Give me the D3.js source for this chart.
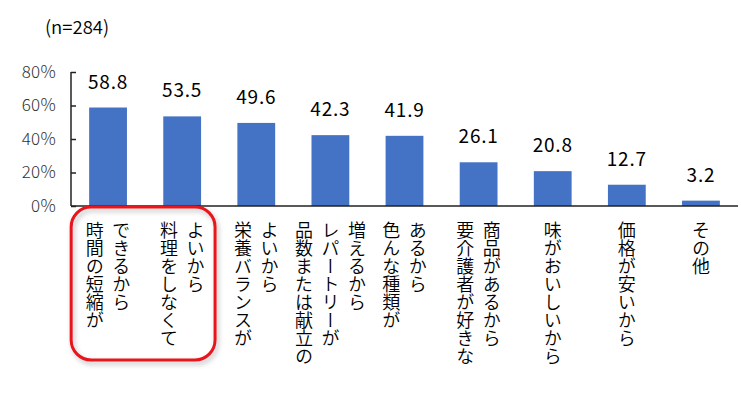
<!DOCTYPE html>
<html>
<head>
<meta charset="utf-8">
<script src="https://cdn.jsdelivr.net/npm/d3@7"></script>
<style>
  body { margin: 0; background: #fff; }
  svg { font-family: "Noto Sans CJK JP", "Noto Sans", sans-serif; }
</style>
</head>
<body>
<script>
// categories (each label split into its vertical text columns, left to right)
var categories = [
  ["時間の短縮が", "できるから"],
  ["料理をしなくて", "よいから"],
  ["栄養バランスが", "よいから"],
  ["品数または献立の", "レパートリーが", "増えるから"],
  ["色んな種類が", "あるから"],
  ["要介護者が好きな", "商品があるから"],
  ["味がおいしいから"],
  ["価格が安いから"],
  ["その他"]
];
var values = [58.8, 53.5, 49.6, 42.3, 41.9, 26.1, 20.8, 12.7, 3.2];
var yTicks = [0, 20, 40, 60, 80];
var note = "(n=284)";

var W = 741, H = 394;
var plot = {left: 71, right: 738, top: 72, bottom: 206};

var svg = d3.select("body").append("svg")
    .attr("width", W)
    .attr("height", H);

var x = d3.scaleBand()
    .domain(d3.range(values.length))
    .range([plot.left, plot.right])
    .paddingInner(0.49)
    .paddingOuter(0.245);

var y = d3.scaleLinear()
    .domain([0, 80])
    .range([plot.bottom, plot.top]);

// shadow for the highlight box
var defs = svg.append("defs");
defs.append("filter")
    .attr("id", "shadow")
    .attr("x", "-20%").attr("y", "-20%")
    .attr("width", "140%").attr("height", "140%")
    .append("feDropShadow")
    .attr("dx", 2).attr("dy", 3)
    .attr("stdDeviation", 2.5)
    .attr("flood-color", "#000")
    .attr("flood-opacity", 0.25);

// bars
svg.selectAll("rect.bar")
    .data(values)
    .enter()
    .append("rect")
    .attr("class", "bar")
    .attr("x", function(d, i) { return x(i); })
    .attr("y", function(d) { return y(d); })
    .attr("width", x.bandwidth())
    .attr("height", function(d) { return y(0) - y(d); })
    .style("fill", "#4472C4");

// value labels
svg.selectAll("text.val")
    .data(values)
    .enter()
    .append("text")
    .attr("class", "val")
    .attr("x", function(d, i) { return x(i) + x.bandwidth() / 2; })
    .attr("y", function(d) { return y(d) - 19; })
    .attr("text-anchor", "middle")
    .style("font-size", "19px")
    .style("font-weight", 400)
    .style("letter-spacing", "0.8px")
    .style("fill", "#000")
    .text(function(d) { return d.toFixed(1); });

// y axis
var yAxis = svg.append("g")
    .attr("transform", "translate(" + plot.left + ",0)")
    .call(d3.axisLeft(y)
        .tickValues(yTicks)
        .tickSize(-5)
        .tickPadding(15)
        .tickFormat(function(d) { return d + "%"; }));
yAxis.select(".domain")
    .attr("d", "M0," + plot.top + "V" + plot.bottom)
    .attr("stroke", "#222")
    .attr("stroke-width", 1.5);
yAxis.selectAll(".tick line").attr("stroke", "#222").attr("stroke-width", 1.5);
yAxis.selectAll(".tick text")
    .style("font-size", "17px")
    .style("font-family", "'Noto Sans CJK JP', sans-serif")
    .style("font-weight", 300)
    .style("letter-spacing", "0.3px")
    .style("fill", "#333");

// x axis line
svg.append("line")
    .attr("x1", plot.left).attr("x2", plot.right)
    .attr("y1", y(0)).attr("y2", y(0))
    .attr("stroke", "#222")
    .attr("stroke-width", 1.5);

// vertical category labels
var colGap = 26.5;
categories.forEach(function(cols, i) {
    var cx = x(i) + x.bandwidth() / 2;
    cols.forEach(function(t, j) {
        svg.append("text")
            .attr("x", cx + (j - (cols.length - 1) / 2) * colGap)
            .attr("y", 221)
            .style("writing-mode", "vertical-rl")
            .style("font-size", "18px")
            .style("font-weight", 350)
            .style("fill", "#000")
            .text(t);
    });
});

// highlight box around first two categories
svg.append("rect")
    .attr("x", x(0) - 18)
    .attr("y", 207)
    .attr("width", x(1) + x.bandwidth() + 14 - (x(0) - 18))
    .attr("height", 153)
    .attr("rx", 20).attr("ry", 20)
    .attr("fill", "none")
    .attr("stroke", "#E8131A")
    .attr("stroke-width", 3)
    .attr("filter", "url(#shadow)");

// sample size note
svg.append("text")
    .attr("x", 45)
    .attr("y", 34)
    .style("font-size", "18.5px")
    .style("font-weight", 350)
    .style("fill", "#000")
    .text(note);
</script>
</body>
</html>
